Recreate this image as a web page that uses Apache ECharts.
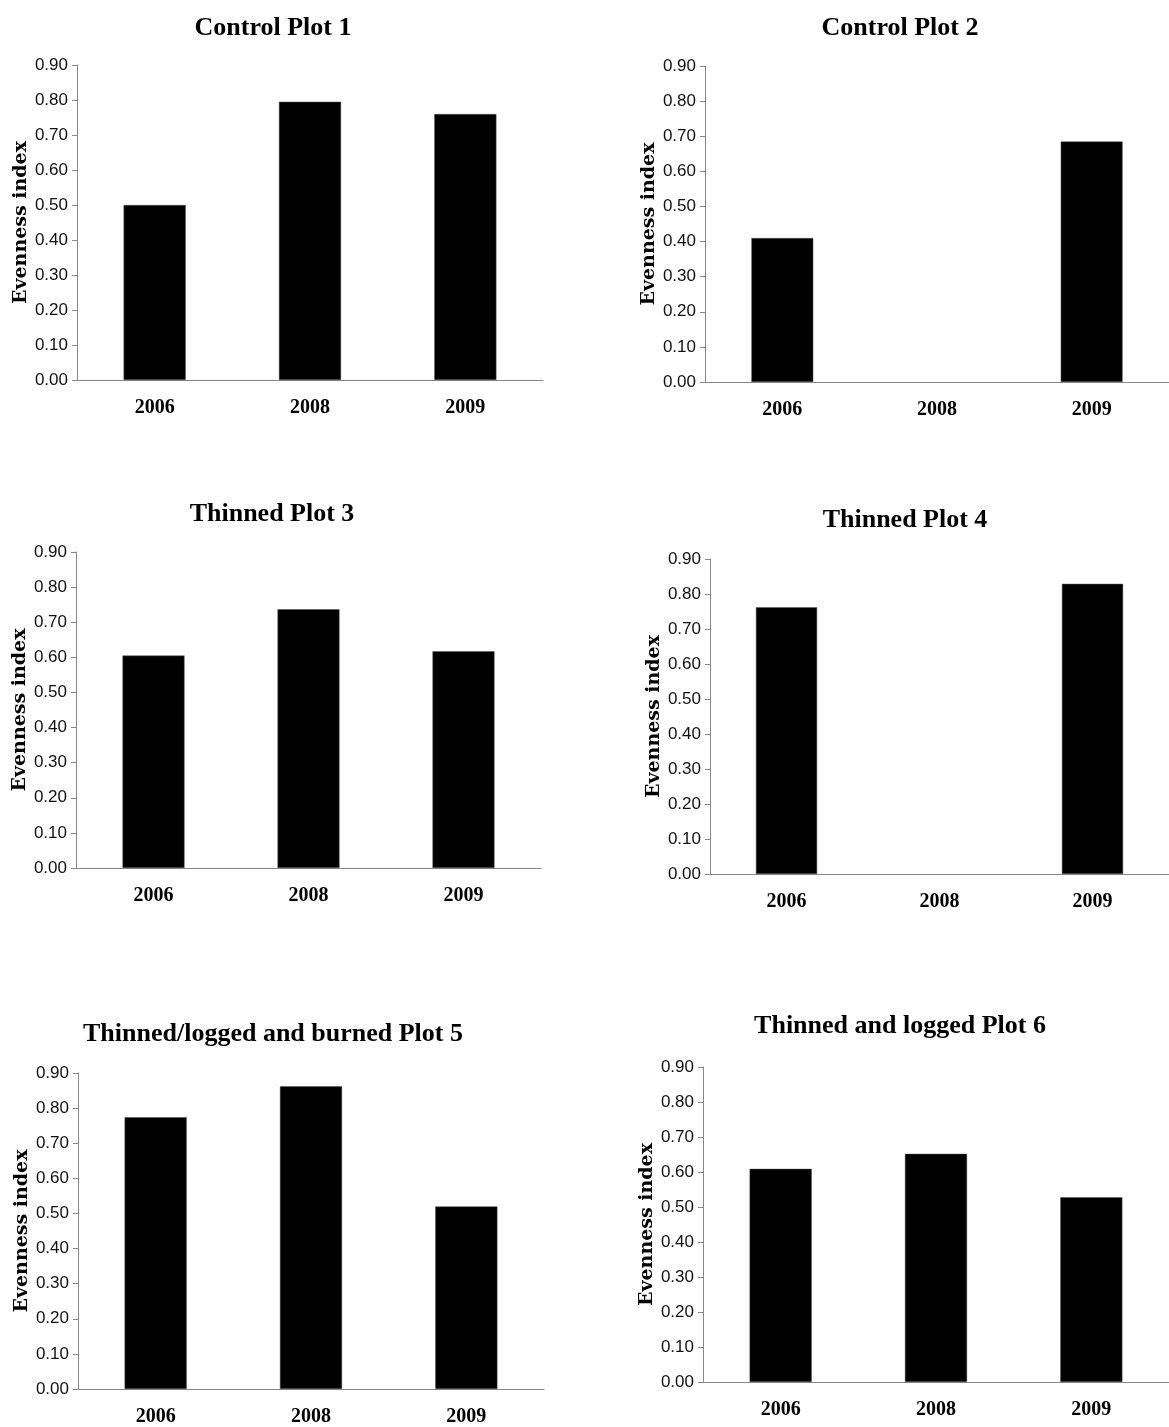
<!DOCTYPE html>
<html>
<head>
<meta charset="utf-8">
<script src="https://cdn.jsdelivr.net/npm/echarts@6/dist/echarts.min.js"></script>
<style>html,body{margin:0;padding:0;background:#fff}#c{width:1169px;height:1427px}</style>
</head>
<body>
<div id="c"></div>
<script>
const years = ['2006', '2008', '2009'];
const yTicks = [0, 0.9, 0.1];
const titles = ['Control Plot 1', 'Control Plot 2', 'Thinned Plot 3', 'Thinned Plot 4', 'Thinned/logged and burned Plot 5', 'Thinned and logged Plot 6'];
const plot1 = [0.50, 0.795, 0.76];
const plot2 = [0.41, null, 0.685];
const plot3 = [0.605, 0.737, 0.617];
const plot4 = [0.762, null, 0.829];
const plot5 = [0.774, 0.862, 0.52];
const plot6 = [0.609, 0.652, 0.528];
const yName = 'Evenness index';

const plots = [plot1, plot2, plot3, plot4, plot5, plot6];
// layout: [left, top, width, height, titleCenterX, titleTop]
const layout = [
  [77, 65, 466, 315, 268, 10],
  [705, 66, 468, 316, 895, 10],
  [76, 552, 465, 316, 267, 496],
  [710, 559, 465, 315, 900, 502],
  [78, 1073, 466, 316, 268, 1016],
  [703, 1067, 468, 315, 895, 1008]
];

const grid = [], xAxis = [], yAxis = [], series = [], title = [];
layout.forEach((L, i) => {
  grid.push({left: L[0], top: L[1], width: L[2], height: L[3], containLabel: false});
  title.push({
    text: titles[i], left: L[4], top: L[5], textAlign: 'center',
    textStyle: {fontFamily: 'Liberation Serif', fontWeight: 'bold', fontSize: 26, color: '#000'}
  });
  xAxis.push({
    type: 'category', gridIndex: i, data: years,
    axisLine: {lineStyle: {color: '#888', width: 1}},
    axisTick: {show: false},
    axisLabel: {fontFamily: 'Liberation Serif', fontWeight: 'bold', fontSize: 20, color: '#000', margin: 18}
  });
  yAxis.push({
    type: 'value', gridIndex: i, min: yTicks[0], max: yTicks[1], interval: yTicks[2],
    name: yName, nameLocation: 'middle', nameGap: 46,
    nameTextStyle: {fontFamily: 'DejaVu Serif', fontWeight: 'bold', fontSize: 19, color: '#000'},
    axisLine: {show: true, lineStyle: {color: '#888', width: 1}},
    axisTick: {show: true, length: 5, lineStyle: {color: '#888'}},
    splitLine: {show: false},
    axisLabel: {fontFamily: 'Liberation Sans', fontSize: 17, color: '#111', margin: 9,
      formatter: v => v.toFixed(2)}
  });
  series.push({
    type: 'bar', xAxisIndex: i, yAxisIndex: i, data: plots[i], barWidth: '40%',
    itemStyle: {color: '#000', borderColor: '#555', borderWidth: 0.5},
    silent: true, animation: false
  });
});

const chart = echarts.init(document.getElementById('c'), null, {renderer: 'canvas'});
chart.setOption({animation: false, backgroundColor: '#fff', title, grid, xAxis, yAxis, series});
</script>
</body>
</html>
